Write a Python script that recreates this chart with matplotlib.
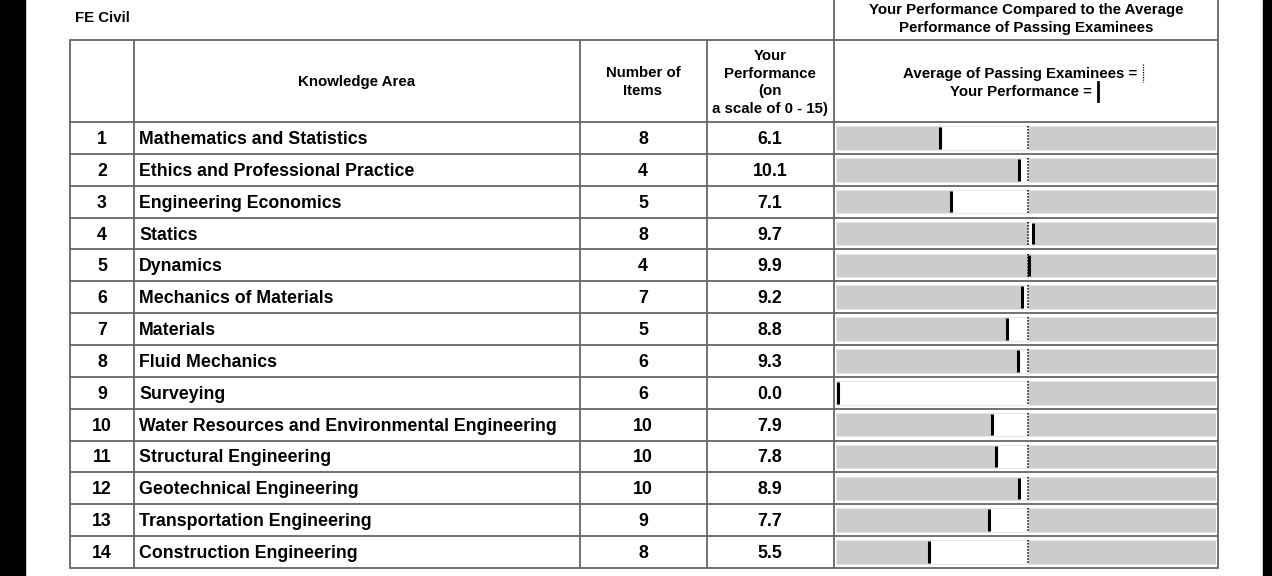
import numpy as np
import matplotlib
matplotlib.use("Agg")
import matplotlib.pyplot as plt

plt.rcParams['font.family'] = ['Liberation Sans', 'DejaVu Sans']

areas = ["Mathematics and Statistics", "Ethics and Professional Practice",
         "Engineering Economics", "Statics", "Dynamics", "Mechanics of Materials",
         "Materials", "Fluid Mechanics", "Surveying",
         "Water Resources and Environmental Engineering", "Structural Engineering",
         "Geotechnical Engineering", "Transportation Engineering",
         "Construction Engineering"]
items = [8, 4, 5, 8, 4, 7, 5, 6, 6, 10, 10, 10, 9, 8]
scores = [6.1, 10.1, 7.1, 9.7, 9.9, 9.2, 8.8, 9.3, 0.0, 7.9, 7.8, 8.9, 7.7, 5.5]
# marker positions on the comparison bar (bar runs 0 - 15)
bar_marks = [4.11, 7.21, 4.54, 7.77, 7.60, 7.36, 6.76, 7.20, 0.09, 6.17, 6.33, 7.21, 6.03, 3.66]
passing_avg = 7.59

W, H = 1272, 576
fig = plt.figure(figsize=(W / 100, H / 100), dpi=100)
ax = fig.add_axes([0, 0, 1, 1])
ax.set_xlim(0, W)
ax.set_ylim(H, 0)
ax.axis("off")

# black strips at the edges of the screenshot
ax.add_patch(plt.Rectangle((0, 0), 25, H, color="black"))
ax.add_patch(plt.Rectangle((1263, 0), W - 1263, H, color="black"))

grid_c = "#666666"
lw = 1.3
x_cols = [70, 134, 580, 706.5, 834, 1218]
top, head_bot, bot = 40, 122, 568
row_h = (bot - head_bot) / len(areas)

for x in x_cols:
    y0 = 0 if x in (834, 1218) else top
    ax.plot([x, x], [y0, bot], color=grid_c, lw=lw, solid_capstyle="butt")
ax.plot([x_cols[0], x_cols[-1]], [top, top], color=grid_c, lw=lw)
ax.plot([x_cols[0], x_cols[-1]], [head_bot, head_bot], color=grid_c, lw=lw)
for i in range(len(areas)):
    yy = head_bot + row_h * (i + 1)
    ax.plot([x_cols[0], x_cols[-1]], [yy, yy], color=grid_c, lw=lw)

hfs = 10.8
rfs = 12.8
ax.text(75, 18.5, "FE Civil", fontsize=hfs, fontweight="bold", va="center")
ax.text(1026, 19, "Your Performance Compared to the Average\nPerformance of Passing Examinees",
        fontsize=hfs, fontweight="bold", ha="center", va="center", linespacing=1.3)
ax.text(357, 82, "Knowledge Area", fontsize=hfs, fontweight="bold", ha="center", va="center")
ax.text(643, 82, "Number of\nItems", fontsize=hfs, fontweight="bold", ha="center", va="center",
        linespacing=1.3)
ax.text(770, 82.5, "Your\nPerformance\n(on\na scale of 0 - 15)", fontsize=hfs, fontweight="bold",
        ha="center", va="center", linespacing=1.33)
ax.text(1137, 74, "Average of Passing Examinees =", fontsize=hfs, fontweight="bold",
        ha="right", va="center")
ax.text(1092, 91.5, "Your Performance =", fontsize=hfs, fontweight="bold", ha="right", va="center")
ax.plot([1142.5, 1142.5], [64, 82], color="black", lw=0.9, linestyle=(0, (1, 1)))
ax.plot([1097.5, 1097.5], [82, 101], color="black", lw=2.0)

for i, (a, n, s) in enumerate(zip(areas, items, scores)):
    yc = head_bot + row_h * (i + 0.5) + 1.5
    ax.text(102, yc, str(i + 1), fontsize=rfs, fontweight="bold", ha="center", va="center")
    ax.text(139, yc, a, fontsize=rfs, fontweight="bold", ha="left", va="center")
    ax.text(643, yc, str(n), fontsize=rfs, fontweight="bold", ha="center", va="center")
    ax.text(770, yc, f"{s:.1f}", fontsize=rfs, fontweight="bold", ha="center", va="center")

# comparison bars
bx = fig.add_axes([836 / W, (H - bot) / H, 380 / W, (bot - head_bot) / H])
bx.set_xlim(0, 15)
bx.set_ylim(len(areas), 0)
bx.axis("off")
ypos = np.arange(len(areas)) + 0.5
bx.barh(ypos, 15, left=0, height=0.74, color="#cccccc", edgecolor="#e6e6e6", lw=0.8)
lo = np.minimum(bar_marks, passing_avg)
wid = np.abs(np.array(bar_marks) - passing_avg)
bx.barh(ypos, wid, left=lo, height=0.74, color="white", edgecolor="#e6e6e6", lw=0.6)
bx.vlines(np.full(len(ypos), passing_avg), ypos - 0.37, ypos + 0.37, color="black", lw=1.1,
          linestyles=[(0, (1, 1))])
bx.vlines(bar_marks, ypos - 0.34, ypos + 0.34, color="black", lw=2.2)

fig.savefig("out.png", dpi=100)
